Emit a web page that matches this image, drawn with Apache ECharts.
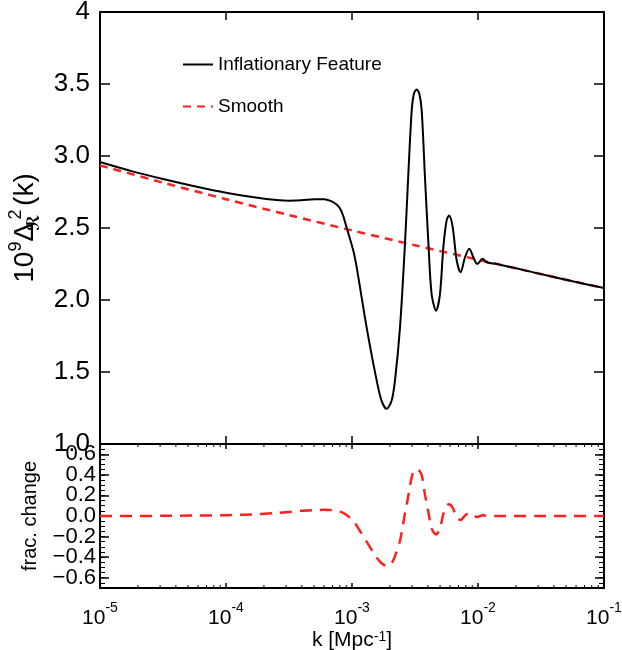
<!DOCTYPE html>
<html>
<head>
<meta charset="utf-8">
<script src="https://cdn.jsdelivr.net/npm/echarts@6/dist/echarts.min.js"></script>
<style>
html,body{margin:0;padding:0;background:#fff;}
#chart{width:622px;height:650px;}
</style>
</head>
<body>
<div id="chart"></div>
<script>
// log10 of k [Mpc^-1] sample points
const logK = [-5.0,-4.75,-4.5,-4.25,-4.0,-3.75,-3.6,-3.5,-3.4,-3.3,-3.22,-3.17,-3.12,-3.095,-3.07,-3.05,-2.99,-2.963,-2.884,-2.804,-2.765,-2.725,-2.686,-2.659,-2.619,-2.579,-2.554,-2.526,-2.508,-2.487,-2.466,-2.447,-2.421,-2.394,-2.368,-2.333,-2.302,-2.275,-2.249,-2.229,-2.201,-2.169,-2.138,-2.103,-2.069,-2.037,-2.006,-1.963,-1.932,-1.85,-1.5,-1.25,-1.0];
// 10^9 Delta^2_R(k), inflationary feature
const featureVals = [2.958,2.895,2.84,2.79,2.745,2.71,2.695,2.69,2.692,2.70,2.70,2.688,2.662,2.635,2.585,2.525,2.344,2.228,1.81,1.44,1.30,1.244,1.30,1.44,1.81,2.40,2.854,3.318,3.434,3.462,3.434,3.318,2.854,2.40,2.04,1.926,2.04,2.367,2.553,2.587,2.506,2.274,2.193,2.297,2.356,2.297,2.25,2.286,2.262,2.25,2.18,2.13,2.083];
// fractional change (bottom panel)
const fracVals = [0.0,0.0,0.002,0.004,0.008,0.018,0.03,0.04,0.05,0.057,0.06,0.058,0.05,0.042,0.03,0.015,-0.045,-0.093,-0.25,-0.405,-0.46,-0.485,-0.46,-0.39,-0.24,0.03,0.19,0.38,0.44,0.455,0.44,0.40,0.21,0.04,-0.12,-0.18,-0.12,0.02,0.10,0.115,0.08,-0.01,-0.04,0.005,0.03,0.008,-0.01,0.008,0.002,0.0,0.0,0.0,0.0];
// smooth power-law spectrum
const smoothLogK = [-5.0,-4.5,-4.0,-3.5,-3.0,-2.5,-2.0,-1.5,-1.0];
const smoothVals = [2.935,2.815,2.70,2.59,2.483,2.38,2.28,2.18,2.083];
// minor tick multipliers for the log axis of the lower panel
const minorMult = [2,3,4,5,6,7,8,9];
const decades = [-5,-4,-3,-2];

const FONT = 'Liberation Sans';
const RED = '#ff1f1f';

const featureData = logK.map((l,i)=>[Math.pow(10,l), featureVals[i]]);
const fracData = logK.map((l,i)=>[Math.pow(10,l), fracVals[i]]);
const smoothData = smoothLogK.map((l,i)=>[Math.pow(10,l), smoothVals[i]]);
const minorTickData = [];
decades.forEach(d=>minorMult.forEach(m=>minorTickData.push([m*Math.pow(10,d)])));

const axLine = {show:true, onZero:false, lineStyle:{color:'#000', width:2}};
function xAx(grid, pos, tickLen, extra){
  return Object.assign({
    type:'log', logBase:10, min:1e-5, max:0.1, gridIndex:grid, position:pos,
    axisLine:axLine,
    axisTick:{show:true, inside:true, length:tickLen, lineStyle:{color:'#000', width:1.5}},
    axisLabel:{show:false}, splitLine:{show:false}
  }, extra||{});
}
function yAx(grid, pos, opts){
  return Object.assign({
    type:'value', gridIndex:grid, position:pos,
    axisLine:axLine,
    axisTick:{show:true, inside:true, length:10, lineStyle:{color:'#000', width:1.5}},
    axisLabel:{show:false}, splitLine:{show:false}
  }, opts);
}
function fmtNeg(v){ const s = v.toFixed(1); return s.charAt(0)==='-' ? '\u2212' + s.slice(1) : s; }

const chart = echarts.init(document.getElementById('chart'), null, {renderer:'canvas'});
const option = {
  animation:false,
  backgroundColor:'#fff',
  grid:[
    {left:100, top:12, width:504, height:432, containLabel:false, outerBoundsMode:'none'},
    {left:100, top:444, width:504, height:144, containLabel:false, outerBoundsMode:'none'}
  ],
  legend:{
    left:177, top:50, orient:'vertical', itemWidth:30, itemHeight:14, itemGap:23,
    data:['Inflationary Feature','Smooth'],
    itemStyle:{opacity:0},
    textStyle:{fontFamily:FONT, fontSize:19, color:'#000'}
  },
  xAxis:[
    xAx(0,'bottom',8),
    xAx(0,'top',8),
    xAx(1,'bottom',5,{
      axisLabel:{show:true, margin:13, color:'#000', fontFamily:FONT,
        formatter:function(v){ const e = Math.round(Math.log10(v)); return '{b|10}{s|' + e + '}'; },
        rich:{ b:{fontSize:21, fontFamily:FONT, color:'#000', lineHeight:28, verticalAlign:'bottom'},
               s:{fontSize:14, fontFamily:FONT, color:'#000', verticalAlign:'top'} }
      },
      name:'k [Mpc{s|-1}]', nameLocation:'middle', nameGap:40,
      nameTextStyle:{fontFamily:FONT, fontSize:21, color:'#000',
        rich:{ s:{fontSize:14, fontFamily:FONT, color:'#000', verticalAlign:'top'} }}
    }),
    xAx(1,'top',5)
  ],
  yAxis:[
    yAx(0,'left',{min:1, max:4, interval:0.5,
      axisLabel:{show:true, margin:10, fontFamily:FONT, fontSize:26, color:'#000',
        formatter:function(v){ return v===4 ? '4' : v.toFixed(1); }},
      name:'{n|10}{p|9}{n|Δ}{r|ℛ}{q|2}{n|(k)}', nameLocation:'middle', nameGap:47, nameRotate:90,
      nameTextStyle:{fontFamily:FONT, fontSize:28, color:'#000',
        rich:{
          n:{fontFamily:FONT, fontSize:28, color:'#000', lineHeight:36, verticalAlign:'middle'},
          p:{fontFamily:FONT, fontSize:18, color:'#000', verticalAlign:'top'},
          r:{fontFamily:'DejaVu Sans', fontSize:17, fontWeight:'bold', color:'#000', verticalAlign:'bottom', width:0},
          q:{fontFamily:FONT, fontSize:18, color:'#000', verticalAlign:'top', width:17}
        }}
    }),
    yAx(0,'right',{min:1, max:4, interval:0.5}),
    yAx(1,'left',{min:-0.7, max:0.7, splitNumber:7,
      axisTick:{show:true, inside:true, length:9, lineStyle:{color:'#000', width:1.5}},
      axisLabel:{show:true, margin:4, fontFamily:FONT, fontSize:22, color:'#000', showMinLabel:false, showMaxLabel:false,
        formatter:fmtNeg},
      name:'frac. change', nameLocation:'middle', nameGap:60, nameRotate:90,
      nameTextStyle:{fontFamily:FONT, fontSize:20, color:'#000'}
    }),
    yAx(1,'right',{min:-0.7, max:0.7, splitNumber:7,
      axisTick:{show:true, inside:true, length:9, lineStyle:{color:'#000', width:1.5}}}),
    yAx(1,'left',{min:-0.7, max:0.7, interval:0.05,
      axisTick:{show:true, inside:true, length:5, lineStyle:{color:'#000', width:1}}}),
    yAx(1,'right',{min:-0.7, max:0.7, interval:0.05,
      axisTick:{show:true, inside:true, length:5, lineStyle:{color:'#000', width:1}}})
  ],
  series:[
    {name:'Inflationary Feature', type:'line', xAxisIndex:0, yAxisIndex:0, data:featureData,
     smooth:0.3, symbol:'none', showSymbol:false, lineStyle:{color:'#000', width:2}, itemStyle:{color:'#000'}, z:3},
    {name:'Smooth', type:'line', xAxisIndex:0, yAxisIndex:0, data:smoothData,
     smooth:0.3, symbol:'none', showSymbol:false, lineStyle:{color:RED, width:2.5, type:[8,6]}, itemStyle:{color:RED}, z:2},
    {name:'frac', type:'line', xAxisIndex:2, yAxisIndex:2, data:fracData,
     smooth:0.3, symbol:'none', showSymbol:false, lineStyle:{color:RED, width:2.5, type:[12,8]}, itemStyle:{color:RED}},
    {name:'minorTicks', type:'custom', xAxisIndex:2, yAxisIndex:2, data:minorTickData, silent:true, clip:false,
     renderItem:function(params, api){
       const k = api.value(0);
       const b = api.coord([k, -0.7]);
       const t = api.coord([k, 0.7]);
       return {type:'group', children:[
         {type:'line', shape:{x1:b[0], y1:b[1], x2:b[0], y2:b[1]-3}, style:{stroke:'#000', lineWidth:1}},
         {type:'line', shape:{x1:t[0], y1:t[1], x2:t[0], y2:t[1]+3}, style:{stroke:'#000', lineWidth:1}}
       ]};
     }}
  ]
};
chart.setOption(option);
</script>
</body>
</html>
